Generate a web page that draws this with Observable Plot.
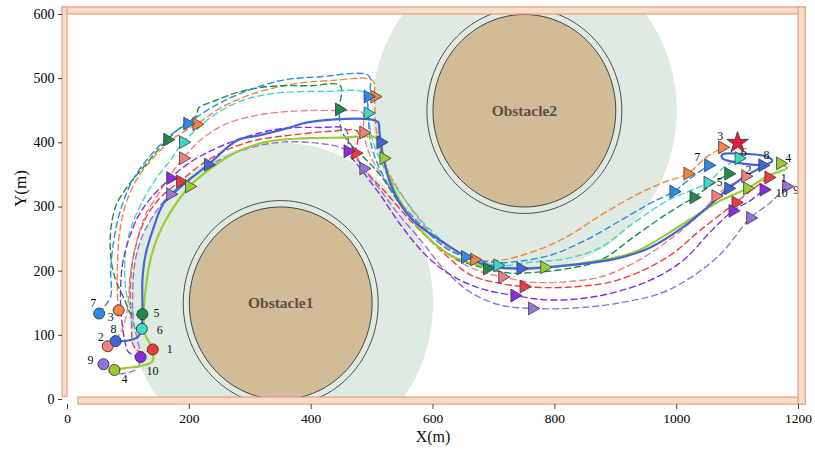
<!DOCTYPE html>
<html>
<head>
<meta charset="utf-8">
<script src="https://cdn.jsdelivr.net/npm/d3@7"></script>
<script src="https://cdn.jsdelivr.net/npm/@observablehq/plot@0.6"></script>
<style>
  html, body { margin: 0; padding: 0; background: #fff; }
  #chart svg { display: block; }
</style>
</head>
<body>
<div id="chart"></div>
<script>
// ---- environment -------------------------------------------------------
const obstacleNames = ["Obstacle1", "Obstacle2"];
const obstacleX = [350, 750];
const obstacleY = [150, 450];
const obstacleR = [150, 150];
const safetyR = [160, 160];
const influenceR = [250, 250];

// boundary walls: top, left, bottom, right
const wallX1 = [-8, -8, 18, 1200];
const wallX2 = [1212, 0, 1212, 1212];
const wallY1 = [600, 4, -8, -8];
const wallY2 = [611, 611, 3, 611];

const targetX = [1100];
const targetY = [400];

const xTicks = [0, 200, 400, 600, 800, 1000, 1200];
const yTicks = [0, 100, 200, 300, 400, 500, 600];

// ---- agent trajectories: [x, y, sampled?] ------------------------------
const agentIds = [1, 2, 3, 4, 5, 6, 7, 8, 9, 10];

const track1 = [[140,78],[120,74],[108,85],[105,124],[103,170],[107,216],[120,264],[136,295],[156,318],[185,340,1],[218,365],[259,388],[309,404],[366,412],[432,418],[476,418],[476,401],[473,384,1],[489,357],[522,323],[563,279],[612,233],[662,194],[711,181],[749,176,1],[821,175],[903,186],[985,222],[1039,264],[1097,307,1],[1121,325],[1151,346,1]];
const track2 = [[66,83],[84,100],[95,124],[100,155],[103,194],[112,240],[128,287],[153,326],[172,354],[190,376,1],[218,404],[259,429],[317,444],[383,450],[448,450],[484,447],[486,416,1],[497,380],[522,341],[555,295],[596,248],[645,214],[686,197],[714,191,1],[760,183],[809,183],[875,191],[932,214],[987,248],[1039,290],[1064,317,1],[1088,334],[1113,348,1]];
const track3 = [[84,139],[82,163],[82,210],[85,256],[95,303],[115,345],[144,380],[177,409],[212,429,1],[251,454],[300,475],[366,491],[432,497],[501,497],[504,472,1],[507,419],[522,365],[555,310],[596,260],[632,232],[668,218,1],[711,217],[760,229],[817,252],[875,287],[932,318],[977,338],[1018,352,1],[1047,376],[1075,393,1]];
const track4 = [[77,46],[95,49],[120,52],[140,60],[136,85],[128,100],[125,124],[128,170],[136,217],[149,256],[169,292],[200,332,1],[235,360],[276,385],[325,401],[383,407],[448,408],[506,408],[514,396],[519,376,1],[530,341],[555,295],[588,256],[629,225],[678,209],[727,204],[783,206,1],[842,212],[929,229],[1011,274],[1072,310],[1116,329,1],[1151,349],[1181,361],[1170,368,1]];
const track5 = [[123,133],[105,133],[94,155],[77,192],[71,224],[71,264],[80,303],[100,334],[123,360],[144,384],[164,405,1],[189,427],[212,443],[215,454],[243,466],[284,480],[333,488],[399,489],[448,489],[446,452,1],[450,419],[468,394],[491,373],[514,349],[547,303],[588,256],[637,220],[689,204,1],[727,197],[765,198],[821,204],[875,217],[929,253],[985,290],[1028,315,1],[1056,334],[1085,352,1]];
const track6 = [[122,110],[108,113],[107,136],[98,159],[94,190],[95,225],[103,264],[120,303],[144,342],[169,373],[190,401,1],[210,419],[240,443],[284,465],[338,477],[420,480],[489,477],[493,446,1],[501,404],[522,357],[555,310],[596,264],[645,228],[706,209,1],[760,214],[821,220],[875,237],[929,275],[985,310],[1051,338,1],[1075,360],[1102,376,1]];
const track7 = [[52,134],[61,145],[71,161],[71,201],[76,248],[87,295],[107,342],[136,380],[169,412],[197,430,1],[235,454],[284,477],[350,497],[415,503],[494,505],[497,485],[493,472,1],[494,443],[497,404],[510,365],[538,318],[580,272],[621,236],[653,222,1],[694,214],[727,214],[793,225],[850,248],[908,279],[957,306],[995,324,1],[1023,345],[1052,365,1]];
const track8 = [[79,91],[100,92],[115,97],[121,108],[123,139],[123,186],[128,225],[140,264],[158,306],[189,334],[231,366,1],[279,404],[317,412],[366,424],[394,432],[509,433],[512,419],[514,401,1],[527,345],[543,310],[571,276],[612,248],[650,225],[689,209],[744,204,1],[821,209],[903,220],[957,237],[1011,269],[1051,300],[1085,329,1],[1113,348],[1141,363],[1157,372],[1146,379],[1105,383],[1075,382],[1075,376],[1105,368],[1141,365,1]];
const track9 = [[59,55],[71,42],[95,41],[115,49],[120,69],[115,92],[108,124],[107,162],[110,209],[120,248],[136,279],[153,303],[169,320,1],[202,345],[243,370],[292,390],[350,401],[415,399],[453,391],[476,373],[486,360,1],[497,346],[514,326],[538,295],[580,248],[620,201],[662,167],[711,147],[763,142,1],[821,142],[903,150],[985,170],[1067,222],[1121,283,1],[1154,307],[1180,332,1]];
const track10 = [[120,66],[100,74],[94,92],[89,124],[87,162],[90,209],[100,248],[117,287],[136,313],[169,345,1],[202,370],[243,391],[292,409],[350,422],[415,424],[456,422],[461,404],[460,387,1],[481,360],[514,318],[547,272],[588,225],[629,194],[678,173],[734,162,1],[793,155],[875,162],[957,186],[1011,217],[1055,261],[1092,294,1],[1121,310],[1143,327,1]];

// ---- styling -----------------------------------------------------------
const agentColors = ["#ef3b3b", "#f08080", "#f5843f", "#9acd32", "#1f8a4c",
                     "#3fd8c8", "#2a8ce6", "#4066d8", "#9474d9", "#8a2be2"];
const solidAgents = [4, 8];
// label offsets in pixels [dx, dy]
const startLabelOffset = [[17,0],[-7,-9],[-8,7],[10,9],[14,-1],[18,1],[-6,-10],[-2,-12],[-13,-4],[12,14]];
const endLabelOffset = [[15,1],[3,-6],[-2,-11],[8,-5],[-9,9],[5,-6],[-11,-8],[4,-10],[10,4],[18,3]];

const serif = "'Liberation Serif', 'Times New Roman', serif";

const tracks = [track1, track2, track3, track4, track5, track6, track7, track8, track9, track10];
const rows = tracks.flatMap((t, k) =>
  t.map(([x, y, s], i) => ({agent: agentIds[k], x, y, sampled: s === 1, i, last: i === t.length - 1})));
const starts = rows.filter(d => d.i === 0);
const ends = rows.filter(d => d.last);

// circle outlines in data units (obstacle, safety ring, influence zone)
const outline = (radii) => obstacleX.flatMap((cx, k) =>
  d3.range(0, 360, 1.5).map(a => ({
    k,
    x: cx + radii[k] * Math.cos(a * Math.PI / 180),
    y: obstacleY[k] + radii[k] * Math.sin(a * Math.PI / 180)
  })));

const walls = wallX1.map((_, i) => i);

const labelMarks = agentIds.flatMap((id, k) => [
  Plot.text(starts.filter(d => d.agent === id), {
    x: "x", y: "y", text: () => String(id), dx: startLabelOffset[k][0], dy: startLabelOffset[k][1],
    fontSize: 12, fill: "#111"
  }),
  Plot.text(ends.filter(d => d.agent === id), {
    x: "x", y: "y", text: () => String(id), dx: endLabelOffset[k][0], dy: endLabelOffset[k][1],
    fontSize: 12, fill: "#111"
  })
]);

const chart = Plot.plot({
  width: 815,
  height: 449,
  marginLeft: 67,
  marginRight: 17,
  marginTop: 14,
  marginBottom: 50,
  x: {domain: [0, 1200], axis: null},
  y: {domain: [0, 600], axis: null},
  color: {type: "ordinal", domain: agentIds, range: agentColors},
  style: {fontFamily: serif, background: "#fff", overflow: "visible"},
  marks: [
    // influence zones, safety rings, obstacles
    Plot.line(outline(influenceR), {x: "x", y: "y", z: "k", curve: "linear-closed", fill: "#dfebe2", stroke: "none", clip: true}),
    Plot.line(outline(safetyR), {x: "x", y: "y", z: "k", curve: "linear-closed", fill: "none", stroke: "#4a4a4a", strokeWidth: 1, clip: true}),
    Plot.line(outline(obstacleR), {x: "x", y: "y", z: "k", curve: "linear-closed", fill: "#d1bc96", stroke: "#3f3f3f", strokeWidth: 1, clip: true}),
    Plot.text(obstacleNames, {x: (d, i) => obstacleX[i], y: (d, i) => obstacleY[i], text: d => d,
      fontSize: 15.5, fontWeight: "bold", fill: "#5e5141"}),

    // trajectories
    Plot.line(rows.filter(d => !solidAgents.includes(d.agent)), {
      x: "x", y: "y", z: "agent", stroke: "agent", strokeWidth: 1.4,
      strokeDasharray: "6,4", curve: "catmull-rom"
    }),
    Plot.line(rows.filter(d => solidAgents.includes(d.agent)), {
      x: "x", y: "y", z: "agent", stroke: "agent", strokeWidth: 2.2, curve: "catmull-rom"
    }),

    // sampled positions along the paths
    Plot.dot(rows.filter(d => d.sampled), {
      x: "x", y: "y", symbol: "triangle", rotate: 90, r: 4.8,
      fill: "agent", stroke: "#3a3a3a", strokeWidth: 0.8
    }),

    // start positions
    Plot.dot(starts, {x: "x", y: "y", r: 5.5, fill: "agent", stroke: "#333", strokeWidth: 0.9}),
    ...labelMarks,

    // target
    Plot.dot(targetX, {x: d => d, y: (d, i) => targetY[i], symbol: "star", r: 6.8,
      fill: "#e31c3d", stroke: "#444", strokeWidth: 0.9}),

    // boundary walls
    Plot.rect(walls, {x1: i => wallX1[i], x2: i => wallX2[i], y1: i => wallY1[i], y2: i => wallY2[i],
      fill: "#fddcc7", stroke: "#dfa18a", strokeWidth: 1.2}),

    // axes
    Plot.axisY({ticks: yTicks, tickFormat: d => String(d), tickSize: 4, tickPadding: 4, dx: -5,
      fontSize: 14, label: null, stroke: "#444"}),
    Plot.axisX({ticks: xTicks, tickFormat: d => String(d), tickSize: 5, tickPadding: 4, dy: 5,
      fontSize: 13.5, label: null, stroke: "#444"}),
    Plot.text(["Y(m)"], {frameAnchor: "left", dx: -47, rotate: -90, fontSize: 17, fill: "#111"}),
    Plot.text(["X(m)"], {frameAnchor: "bottom", dy: 42, fontSize: 16, fill: "#111"})
  ]
});

document.getElementById("chart").appendChild(chart);
</script>
</body>
</html>
